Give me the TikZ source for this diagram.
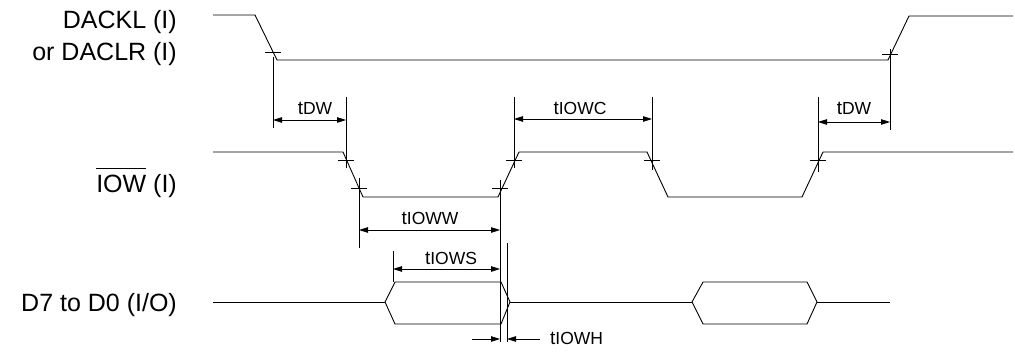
\documentclass[tikz,border=0pt]{standalone}
\usepackage{fontspec}
\setmainfont{Liberation Sans}
\usetikzlibrary{arrows.meta}
\newcommand\tsub[1]{t{\fontsize{17.5}{20}\selectfont #1}}
\newcommand\ovbar[1]{\setbox0\hbox{#1}\rlap{\raisebox{24.5pt}{\rule{\wd0}{0.9pt}}}\box0\relax}
\begin{document}
\begin{tikzpicture}[x=1pt,y=-1pt,
  sig/.style={line width=0.9pt},
  guide/.style={line width=0.8pt},
  dim/.style={line width=0.8pt,{Triangle[length=9pt,width=5.5pt]}-{Triangle[length=9pt,width=5.5pt]}},
  onearrow/.style={line width=0.8pt,-{Triangle[length=9pt,width=5.5pt]}},
  lbl/.style={anchor=base east,inner sep=0pt,font=\fontsize{25}{30}\selectfont},
  tlbl/.style={inner sep=0pt,anchor=base,font=\fontsize{19}{22}\selectfont}]
\useasboundingbox (0,0) rectangle (1015,352);

% signal names
\node[lbl] (n1) at (177,29) {DACKL (I)};
\node[lbl] (n2) at (177,61) {or DACLR (I)};
\node[lbl] (n3) at (177,193) {\ovbar{IOW} (I)};
\node[lbl] (n4) at (177,312) {D7 to D0 (I/O)};

% DACKL waveform
\draw[sig] (213,15) -- (255,15) -- (277,60) -- (888,60) -- (909,16) -- (1013,16);
% IOW waveform
\draw[sig] (213,152) -- (343,152) -- (363,197) -- (498,197) -- (519,152) -- (647,152)
  -- (668,197) -- (802,197) -- (823,152) -- (1013,152);
% data bus
\draw[sig] (213,302) -- (385,302);
\draw[sig] (385,302) -- (395,282) -- (501,282) -- (510,302) -- (501,324) -- (395,324) -- cycle;
\draw[sig] (510,302) -- (692,302);
\draw[sig] (692,302) -- (703,282) -- (807,282) -- (817,302) -- (807,324) -- (703,324) -- cycle;
\draw[sig] (817,302) -- (890,302);

% reference points (crosses)
\coordinate (a1) at (273,52);
\coordinate (a2) at (890,54);
\coordinate (b1) at (346,160);
\coordinate (b2) at (359,188);
\coordinate (b3) at (500,188);
\coordinate (b4) at (514,160);
\coordinate (b5) at (652,160);
\coordinate (b6) at (818,160);
\foreach \p in {a1,a2,b1,b2,b3,b4,b5,b6}
  \draw[guide] ([xshift=-8pt]\p) -- ([xshift=8pt]\p);

% guide lines
\coordinate (a1e) at (273,128);
\coordinate (a2s) at (890,49);
\coordinate (a2e) at (890,130);
\draw[guide] ([yshift=-5pt]a1) -- (a1e);
\draw[guide] (a2s) -- (a2e);
\draw[guide] (346,97) -- (346,168);
\draw[guide] (359,178) -- (359,248);
\draw[guide] (500,180) -- (500,342);
\draw[guide] (514,97) -- (514,168);
\draw[guide] (652,97) -- (652,170);
\draw[guide] (818,97) -- (818,172);
\draw[guide] (393,251) -- (393,282);
\draw[guide] (507,243) -- (507,342);

% dimension arrows
\coordinate (d1l) at (273,120); \coordinate (d1r) at (346,120);
\draw[dim] (d1l) -- (d1r);
\node[tlbl] (t1) at (315,115) {\tsub{DW}};
\coordinate (d2l) at (514,119); \coordinate (d2r) at (652,119);
\draw[dim] (d2l) -- (d2r);
\node[tlbl] (t2) at (580,115) {\tsub{IOWC}};
\coordinate (d3l) at (818,122); \coordinate (d3r) at (890,122);
\draw[dim] (d3l) -- (d3r);
\node[tlbl] (t3) at (854,115) {\tsub{DW}};
\coordinate (d4l) at (359,230); \coordinate (d4r) at (500,230);
\draw[dim] (d4l) -- (d4r);
\node[tlbl] (t4) at (430,225) {\tsub{IOWW}};
\coordinate (d5l) at (393,269); \coordinate (d5r) at (500,269);
\draw[dim] (d5l) -- (d5r);
\node[tlbl] (t5) at (451,265) {\tsub{IOWS}};
\coordinate (h1) at (472,339); \coordinate (h2) at (500,339);
\coordinate (h3) at (540,339); \coordinate (h4) at (507,339);
\draw[onearrow] (h1) -- (h2);
\draw[onearrow] (h3) -- (h4);
\node[tlbl,anchor=base west] (t6) at (550,345) {\tsub{IOWH}};
\end{tikzpicture}
\end{document}
